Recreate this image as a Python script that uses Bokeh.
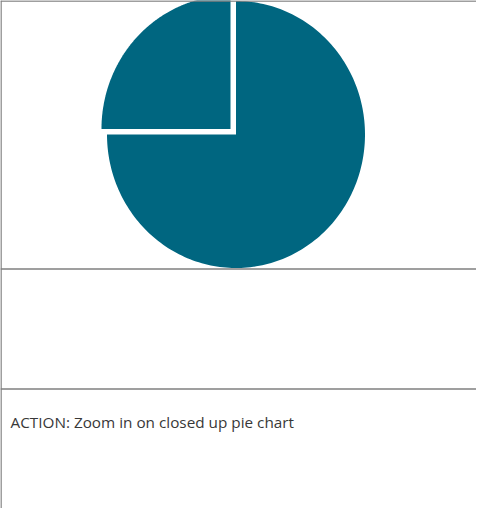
import numpy as np
from bokeh.plotting import figure
from bokeh.models import Range1d, ColumnDataSource
from bokeh.core.properties import value
from bokeh.embed import file_html
from bokeh.resources import INLINE

# Data
categories = ["Closed", "Open"]
shares = [75, 25]
exploded = [False, True]
caption = "ACTION: Zoom in on closed up pie chart"

W, H = 476, 508
p = figure(width=W, height=H, output_backend="svg", toolbar_location=None,
           x_range=Range1d(0, W), y_range=Range1d(H, 0), min_border=0)
p.axis.visible = False
p.grid.visible = False
p.outline_line_color = None
p.background_fill_color = "white"
p.border_fill_color = "white"

# Pie geometry (screen units)
cx, cy, rx, ry = 235.5, 134.0, 129.0, 133.5
explode_dist = 7.8

total = float(sum(shares))
xs, ys = [], []
start = 0.0
for s, ex in zip(shares, exploded):
    a0 = start
    a1 = start + 2 * np.pi * s / total
    start = a1
    mid = (a0 + a1) / 2
    ox = explode_dist * np.sin(mid) if ex else 0.0
    oy = -explode_dist * np.cos(mid) if ex else 0.0
    th = np.linspace(a0, a1, 200)
    px = np.concatenate([[cx + ox], cx + ox + rx * np.sin(th)])
    py = np.concatenate([[cy + oy], cy + oy - ry * np.cos(th)])
    xs.append(px.tolist())
    ys.append(py.tolist())

src = ColumnDataSource(dict(xs=xs, ys=ys, name=categories))
p.patches("xs", "ys", source=src, fill_color="#006680", line_color=None)

# Table-like grid lines
line_col = "#7f7f7f"
p.segment(x0=[0, 0, 0], y0=[0.5, 268.5, 388.5], x1=[W, W, W], y1=[0.5, 268.5, 388.5],
          line_color=line_col, line_width=1.3)
p.segment(x0=[0.5], y0=[0], x1=[0.5], y1=[H], line_color=line_col, line_width=1.5)

p.text(x=[10], y=[421], text=[caption], text_font=value("Open Sans"),
       text_font_size="15.3px", text_color="#383838", text_baseline="alphabetic",
       text_align="left")

open("out.html", "w").write(file_html(p, INLINE))
